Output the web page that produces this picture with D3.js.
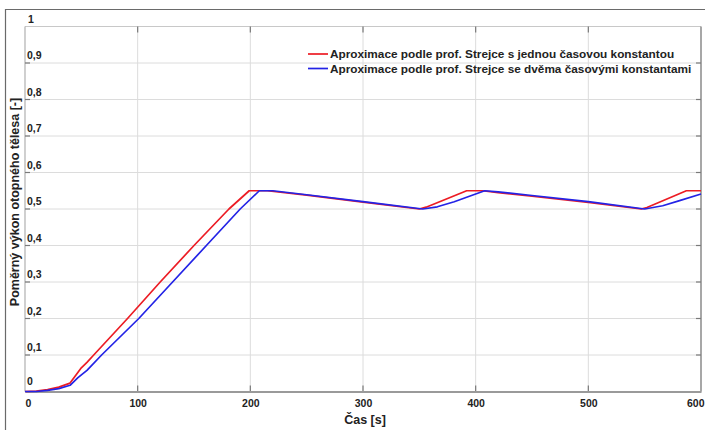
<!DOCTYPE html>
<html>
<head>
<meta charset="utf-8">
<script src="https://cdn.jsdelivr.net/npm/d3@7"></script>
<style>
  html, body { margin: 0; padding: 0; background: #fff; }
  svg { display: block; font-family: "Liberation Sans", Arial, sans-serif; }
</style>
</head>
<body>
<svg id="chart" width="705" height="430"></svg>
<script>
// Time axis [s] and relative radiator output [-]
const redTime  = [0, 10, 20, 30, 40, 50, 55, 61, 91, 120, 150, 181, 199, 215, 250, 300, 350, 356, 392, 406, 420, 450, 500, 547, 552, 587, 600];
const redValue = [0, 0.001, 0.005, 0.012, 0.023, 0.065, 0.08, 0.1, 0.2, 0.3, 0.4, 0.5, 0.55, 0.55, 0.538, 0.519, 0.5, 0.505, 0.55, 0.55, 0.545, 0.535, 0.518, 0.5, 0.504, 0.55, 0.55];

const blueTime  = [0, 10, 20, 30, 40, 47, 55, 68, 101, 131, 161, 191, 208, 220, 250, 300, 353, 366, 381, 392, 400, 408, 420, 450, 500, 550, 566, 581, 600];
const blueValue = [0, 0, 0.003, 0.008, 0.017, 0.038, 0.058, 0.1, 0.2, 0.3, 0.4, 0.5, 0.55, 0.55, 0.539, 0.52, 0.5, 0.506, 0.52, 0.532, 0.541, 0.55, 0.547, 0.537, 0.52, 0.5, 0.509, 0.523, 0.541];

const seriesNames = [
  "Aproximace podle prof. Strejce s jednou časovou konstantou",
  "Aproximace podle prof. Strejce se dvěma časovými konstantami"
];
const seriesColors = ["#ec1c24", "#2323e6"];

const xTicks = [0, 100, 200, 300, 400, 500, 600];
const yTicks = [0, 0.1, 0.2, 0.3, 0.4, 0.5, 0.6, 0.7, 0.8, 0.9, 1];
const yTickLabels = ["0", "0,1", "0,2", "0,3", "0,4", "0,5", "0,6", "0,7", "0,8", "0,9", "1"];

const xTitle = "Čas [s]";
const yTitle = "Poměrný výkon otopného tělesa [-]";

const svg = d3.select("#chart");
const plot = { left: 25, right: 701, top: 26.5, bottom: 391.5 };

const x = d3.scaleLinear().domain([0, 600]).range([plot.left, plot.right]);
const y = d3.scaleLinear().domain([0, 1]).range([plot.bottom, plot.top]);

// outer frame (top and left edges)
svg.append("line").attr("x1", 5).attr("x2", 705).attr("y1", 9.5).attr("y2", 9.5)
  .attr("stroke", "#6a6a6a").attr("stroke-width", 1.2);
svg.append("line").attr("x1", 5.5).attr("x2", 5.5).attr("y1", 9).attr("y2", 430)
  .attr("stroke", "#6a6a6a").attr("stroke-width", 1.2);

// grid
const grid = svg.append("g");
grid.selectAll(".gx").data(xTicks.slice(1, -1)).join("line")
  .attr("x1", d => x(d)).attr("x2", d => x(d))
  .attr("y1", plot.top).attr("y2", plot.bottom)
  .attr("stroke", "#dcdcdc").attr("stroke-width", 1);
grid.selectAll(".gy").data(yTicks.slice(1, -1)).join("line")
  .attr("x1", plot.left).attr("x2", plot.right)
  .attr("y1", d => y(d)).attr("y2", d => y(d))
  .attr("stroke", "#dcdcdc").attr("stroke-width", 1);

// plot box
svg.append("line").attr("x1", plot.left).attr("x2", plot.right).attr("y1", plot.top).attr("y2", plot.top)
  .attr("stroke", "#c8c8c8").attr("stroke-width", 1);
svg.append("line").attr("x1", plot.left).attr("x2", plot.left).attr("y1", plot.top).attr("y2", plot.bottom)
  .attr("stroke", "#b0b0b0").attr("stroke-width", 1.2);
svg.append("line").attr("x1", plot.right).attr("x2", plot.right).attr("y1", plot.top).attr("y2", plot.bottom)
  .attr("stroke", "#8a8a8a").attr("stroke-width", 1.5);

// inward tick marks on all four sides
const tk = svg.append("g").attr("stroke", "#7a7a7a").attr("stroke-width", 1.2);
xTicks.slice(1, -1).forEach(d => {
  tk.append("line").attr("x1", x(d)).attr("x2", x(d)).attr("y1", plot.top).attr("y2", plot.top + 6);
  tk.append("line").attr("x1", x(d)).attr("x2", x(d)).attr("y1", plot.bottom).attr("y2", plot.bottom - 6);
});
yTicks.slice(1, -1).forEach(d => {
  tk.append("line").attr("x1", plot.left).attr("x2", plot.left + 5).attr("y1", y(d)).attr("y2", y(d));
  tk.append("line").attr("x1", plot.right).attr("x2", plot.right - 5).attr("y1", y(d)).attr("y2", y(d));
});

// x axis through the library's axis generator
const xAxis = d3.axisBottom(x).tickValues(xTicks).tickSize(0).tickPadding(8).tickFormat(d3.format("d"));
const gx = svg.append("g").attr("transform", `translate(0,${plot.bottom})`).call(xAxis);
gx.select(".domain").attr("stroke", "#9a9a9a").attr("stroke-width", 2.2);
gx.selectAll("text")
  .attr("font-size", 10.5).attr("font-weight", "bold").attr("fill", "#222")
  .attr("font-family", "'Liberation Sans', Arial, sans-serif")
  .attr("text-anchor", (d, i) => i === 0 ? "start" : (i === xTicks.length - 1 ? "end" : "middle"))
  .attr("dx", (d, i) => i === 0 ? 0 : (i === xTicks.length - 1 ? 3 : 0));

// y tick labels sit just above each gridline, inside the plot
svg.append("g").selectAll("text").data(yTicks).join("text")
  .attr("x", (d, i) => i === yTicks.length - 1 ? 28 : 27)
  .attr("y", (d, i) => y(d) - (i === 0 ? 7 : 4))
  .attr("font-size", 10.5).attr("font-weight", "bold").attr("fill", "#222")
  .text((d, i) => yTickLabels[i]);

// axis titles
svg.append("text").attr("x", 365).attr("y", 424).attr("text-anchor", "middle")
  .attr("font-size", 12.5).attr("font-weight", "bold").attr("fill", "#222").text(xTitle);
svg.append("text").attr("transform", "translate(19,202) rotate(-90)").attr("text-anchor", "middle")
  .attr("font-size", 12.5).attr("font-weight", "bold").attr("fill", "#222").text(yTitle);

// series
const line = d3.line().x(d => x(d[0])).y(d => y(d[1]));
const redData = redTime.map((t, i) => [t, redValue[i]]);
const blueData = blueTime.map((t, i) => [t, blueValue[i]]);

svg.append("path").datum(redData).attr("d", line)
  .attr("fill", "none").attr("stroke", seriesColors[0]).attr("stroke-width", 1.7).attr("stroke-linejoin", "round");
svg.append("path").datum(blueData).attr("d", line)
  .attr("fill", "none").attr("stroke", seriesColors[1]).attr("stroke-width", 1.7).attr("stroke-linejoin", "round");

// legend
const legend = svg.append("g").attr("transform", "translate(308,54)");
seriesNames.forEach((name, i) => {
  const row = legend.append("g").attr("transform", `translate(0,${i * 14.5})`);
  row.append("line").attr("x1", 0).attr("x2", 20).attr("y1", 0).attr("y2", 0)
    .attr("stroke", seriesColors[i]).attr("stroke-width", 1.7);
  row.append("text").attr("x", 22).attr("y", 4.2)
    .attr("font-size", 11.8).attr("font-weight", "bold").attr("fill", "#222").text(name);
});
</script>
</body>
</html>
